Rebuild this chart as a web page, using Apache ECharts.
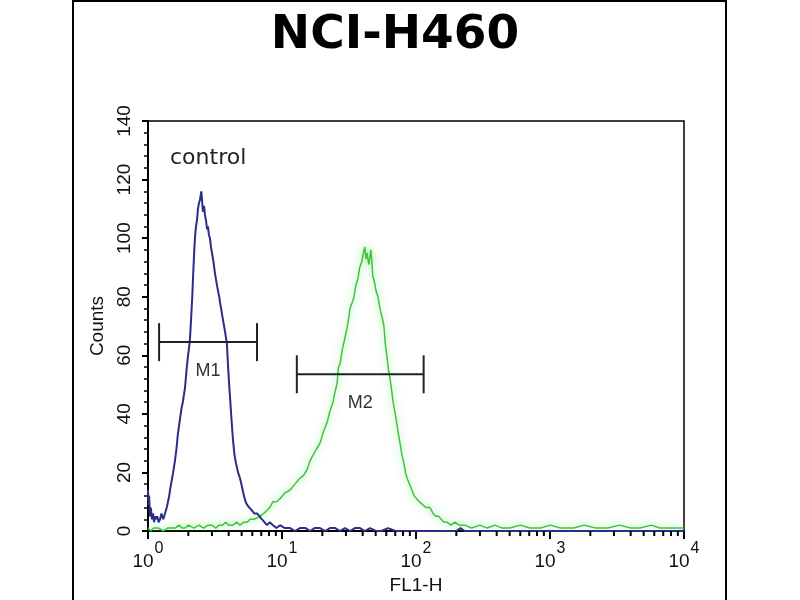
<!DOCTYPE html>
<html><head><meta charset="utf-8">
<script src="https://cdn.jsdelivr.net/npm/echarts@6/dist/echarts.min.js"></script>
<style>html,body{margin:0;padding:0;background:#fff}#c{width:800px;height:600px}</style>
</head><body><div id="c"></div>
<script>
const chartTitle = 'NCI-H460';
const xAxisName = 'FL1-H';
const yAxisName = 'Counts';
const controlLabel = 'control';
const xRange = [1, 10000];
const yRange = [0, 140];
const yInterval = 20;

// control (blue) histogram: [FL1-H, counts]
const controlData = [[1.00,14],[1.01,9],[1.02,12],[1.035,5],[1.05,8],[1.07,4],[1.09,6],[1.11,3],[1.13,5],[1.15,4],[1.17,5],[1.20,3],[1.23,4],[1.26,6],[1.30,4],[1.34,6],[1.38,8],[1.41,10],[1.44,12],[1.46,14],[1.50,17],[1.54,20],[1.59,24],[1.63,28],[1.67,33],[1.73,38],[1.78,42],[1.82,44],[1.86,47],[1.89,49],[1.94,55],[1.99,60],[2.03,63],[2.06,66],[2.10,73],[2.14,80],[2.17,87],[2.21,95],[2.24,100],[2.28,104],[2.32,106],[2.36,110],[2.40,112],[2.44,113],[2.50,116],[2.53,113],[2.57,109],[2.62,111],[2.66,108],[2.71,106],[2.76,103],[2.80,104],[2.85,101],[2.90,100],[2.95,97],[3.00,95],[3.08,92],[3.16,88],[3.24,85],[3.33,82],[3.40,80],[3.45,78],[3.54,75],[3.63,72],[3.76,68],[3.88,64],[3.95,57],[4.02,51],[4.09,46],[4.20,38],[4.31,31],[4.42,26],[4.54,23],[4.70,20],[4.86,18],[5.03,15],[5.20,12],[5.35,10],[5.48,9],[5.70,8],[5.97,7],[6.2,6],[6.51,6],[6.8,5],[7.09,4],[7.4,3],[7.73,2],[8.1,3],[8.57,2],[9.1,1],[9.66,2],[10.5,1],[11.5,1],[12.5,0],[13.6,1],[15,1],[16.2,0],[17.5,1],[19.2,1],[21,0],[22.8,1],[25,1],[27.1,0],[29.5,1],[32.2,0],[35,1],[38.2,1],[41.5,0],[45.4,1],[50,0],[55,0],[62,1],[70,0],[80,0],[95,0],[110,0],[130,0],[150,0],[175,0],[200,0],[215,1],[230,0],[260,0],[300,0],[400,0],[500,0],[700,0],[1000,0],[1500,0],[2000,0],[3000,0],[4500,0],[6500,0],[10000,0]];

// sample (green) histogram: [FL1-H, counts]
const sampleData = [[1.00,1],[1.05,0],[1.1,1],[1.2,1],[1.3,0],[1.4,1],[1.5,1],[1.6,1],[1.7,2],[1.8,1],[1.9,1],[2.0,2],[2.2,1],[2.4,2],[2.6,1],[2.8,2],[3.0,2],[3.2,1],[3.4,2],[3.6,2],[3.8,3],[4.0,2],[4.3,2],[4.6,3],[4.86,2],[5.2,3],[5.5,3],[5.78,4],[6.2,4],[6.84,5],[7.3,6],[7.73,7],[8.1,8],[8.57,10],[9.1,10],[9.66,11],[10.5,13],[11.5,14],[12.5,16],[13.6,18],[14.5,19],[15.4,21],[16.2,24],[17.1,26],[18.1,28],[19.2,30],[20.4,34],[21.7,37],[22.8,41],[24.0,44],[25.0,48],[25.7,50],[26.4,56],[27.1,57],[28.2,62],[29.5,66],[30.8,70],[32.2,76],[33.4,78],[34.5,80],[35.6,84],[36.8,86],[38.0,90],[39.4,92],[40.5,95],[41.5,97],[42.3,93],[43.0,95],[44.5,91],[46.1,96],[47.6,87],[49.0,85],[50.3,82],[52.0,80],[53.8,76],[55.8,73],[57.6,70],[59.0,64],[60.6,60],[62.3,55],[64.0,52],[65.8,48],[67.5,44],[70.0,40],[72.3,36],[74.0,33],[76.0,30],[78.5,26],[81.3,23],[83.5,20],[85.8,18],[89.5,16],[93.1,14],[97,12],[101,11],[106,10],[112,9],[119,8],[127,8],[134,6],[141,5],[148,5],[154,4],[162,3],[170,3],[182,2],[195,3],[210,2],[233,2],[260,1],[300,2],[340,1],[388,2],[440,1],[502,1],[600,2],[707,1],[850,1],[1000,2],[1200,1],[1500,1],[1800,2],[2200,1],[2700,1],[3300,2],[4000,1],[4700,1],[5700,2],[6600,1],[8000,1],[10000,1]];

// gate markers
const markerNames = ['M1', 'M2'];
const markerFrom = [1.21, 12.9];
const markerTo = [6.51, 114];
const markerLevel = [64.5, 53.5];

// log minor tick values (2..9 in each decade)
const minorTickValues = [];
for (let d = 0; d < 4; d++) for (let k = 2; k <= 9; k++) minorTickValues.push(k * Math.pow(10, d));

const FONT = 'Liberation Sans';
const chart = echarts.init(document.getElementById('c'), null, {renderer: 'canvas'});

chart.setOption({
  animation: false,
  backgroundColor: '#fff',
  grid: {left: 148, right: 116, top: 121, bottom: 69, show: true, borderColor: '#000', borderWidth: 1.5, backgroundColor: 'transparent'},
  xAxis: {
    type: 'log', logBase: 10, min: xRange[0], max: xRange[1],
    name: xAxisName, nameLocation: 'middle', nameGap: 37,
    nameTextStyle: {fontFamily: FONT, fontSize: 19, color: '#111'},
    axisLine: {show: true, lineStyle: {color: '#000', width: 2}},
    axisTick: {show: true, length: 8, lineStyle: {color: '#000', width: 2}},
    splitLine: {show: false},
    axisLabel: {
      margin: 10, color: '#111',
      formatter: function (v) { return '{b|10}{s|' + Math.round(Math.log10(v)) + '}'; },
      rich: {
        b: {fontFamily: FONT, fontSize: 19, color: '#111', verticalAlign: 'bottom', lineHeight: 30},
        s: {fontFamily: FONT, fontSize: 16, color: '#111', verticalAlign: 'top', lineHeight: 30, padding: [0, 0, 0, 1]}
      }
    }
  },
  yAxis: {
    type: 'value', min: yRange[0], max: yRange[1], interval: yInterval,
    name: yAxisName, nameLocation: 'middle', nameGap: 40, nameRotate: 90,
    nameTextStyle: {fontFamily: FONT, fontSize: 19, color: '#111'},
    axisLine: {show: true, lineStyle: {color: '#000', width: 2}},
    axisTick: {show: true, length: 6, lineStyle: {color: '#000', width: 2}},
    minorTick: {show: true, splitNumber: 5, length: 4, lineStyle: {color: '#000', width: 1.5}},
    splitLine: {show: false},
    minorSplitLine: {show: false},
    axisLabel: {rotate: 90, margin: 14, fontFamily: FONT, fontSize: 19, color: '#111'}
  },
  graphic: [
    {type: 'rect', shape: {x: 73, y: 1, width: 653, height: 650}, style: {fill: 'none', stroke: '#000', lineWidth: 2}, z: 100},
    {type: 'text', x: 395, y: 36, style: {text: chartTitle, font: 'bold 47px DejaVu Sans', fill: '#000', align: 'center', verticalAlign: 'middle'}},
    {type: 'text', x: 170, y: 158, style: {text: controlLabel, font: '22px DejaVu Sans', fill: '#222', align: 'left', verticalAlign: 'middle'}}
  ],
  series: [
    {
      name: 'sample', type: 'line', data: sampleData, showSymbol: false, z: 3,
      lineStyle: {color: '#3cc43c', width: 1.5, shadowColor: 'rgba(110,225,110,0.9)', shadowBlur: 8}
    },
    {
      name: 'control', type: 'line', data: controlData, showSymbol: false, z: 4,
      lineStyle: {color: '#2b2d86', width: 2}
    },
    {
      name: 'minorTicks', type: 'custom', clip: false, silent: true, z: 5,
      data: minorTickValues.map(v => [v, yRange[0]]),
      renderItem: function (params, api) {
        const p = api.coord([api.value(0), api.value(1)]);
        return {type: 'line', shape: {x1: p[0], y1: p[1], x2: p[0], y2: p[1] + 5}, style: {stroke: '#000', lineWidth: 2}};
      }
    },
    {
      name: 'markers', type: 'custom', clip: false, silent: true, z: 6,
      data: markerNames.map((n, i) => [markerFrom[i], markerTo[i], markerLevel[i]]),
      renderItem: function (params, api) {
        const a = api.coord([api.value(0), api.value(2)]);
        const b = api.coord([api.value(1), api.value(2)]);
        const st = {stroke: '#222', lineWidth: 2};
        return {type: 'group', children: [
          {type: 'line', shape: {x1: a[0], y1: a[1], x2: b[0], y2: b[1]}, style: st},
          {type: 'line', shape: {x1: a[0], y1: a[1] - 19, x2: a[0], y2: a[1] + 19}, style: st},
          {type: 'line', shape: {x1: b[0], y1: b[1] - 19, x2: b[0], y2: b[1] + 19}, style: st},
          {type: 'text', x: (a[0] + b[0]) / 2, y: a[1] + 29, style: {text: markerNames[params.dataIndex], font: '18px Liberation Sans', fill: '#333', align: 'center', verticalAlign: 'middle'}}
        ]};
      }
    }
  ]
});
</script></body></html>
